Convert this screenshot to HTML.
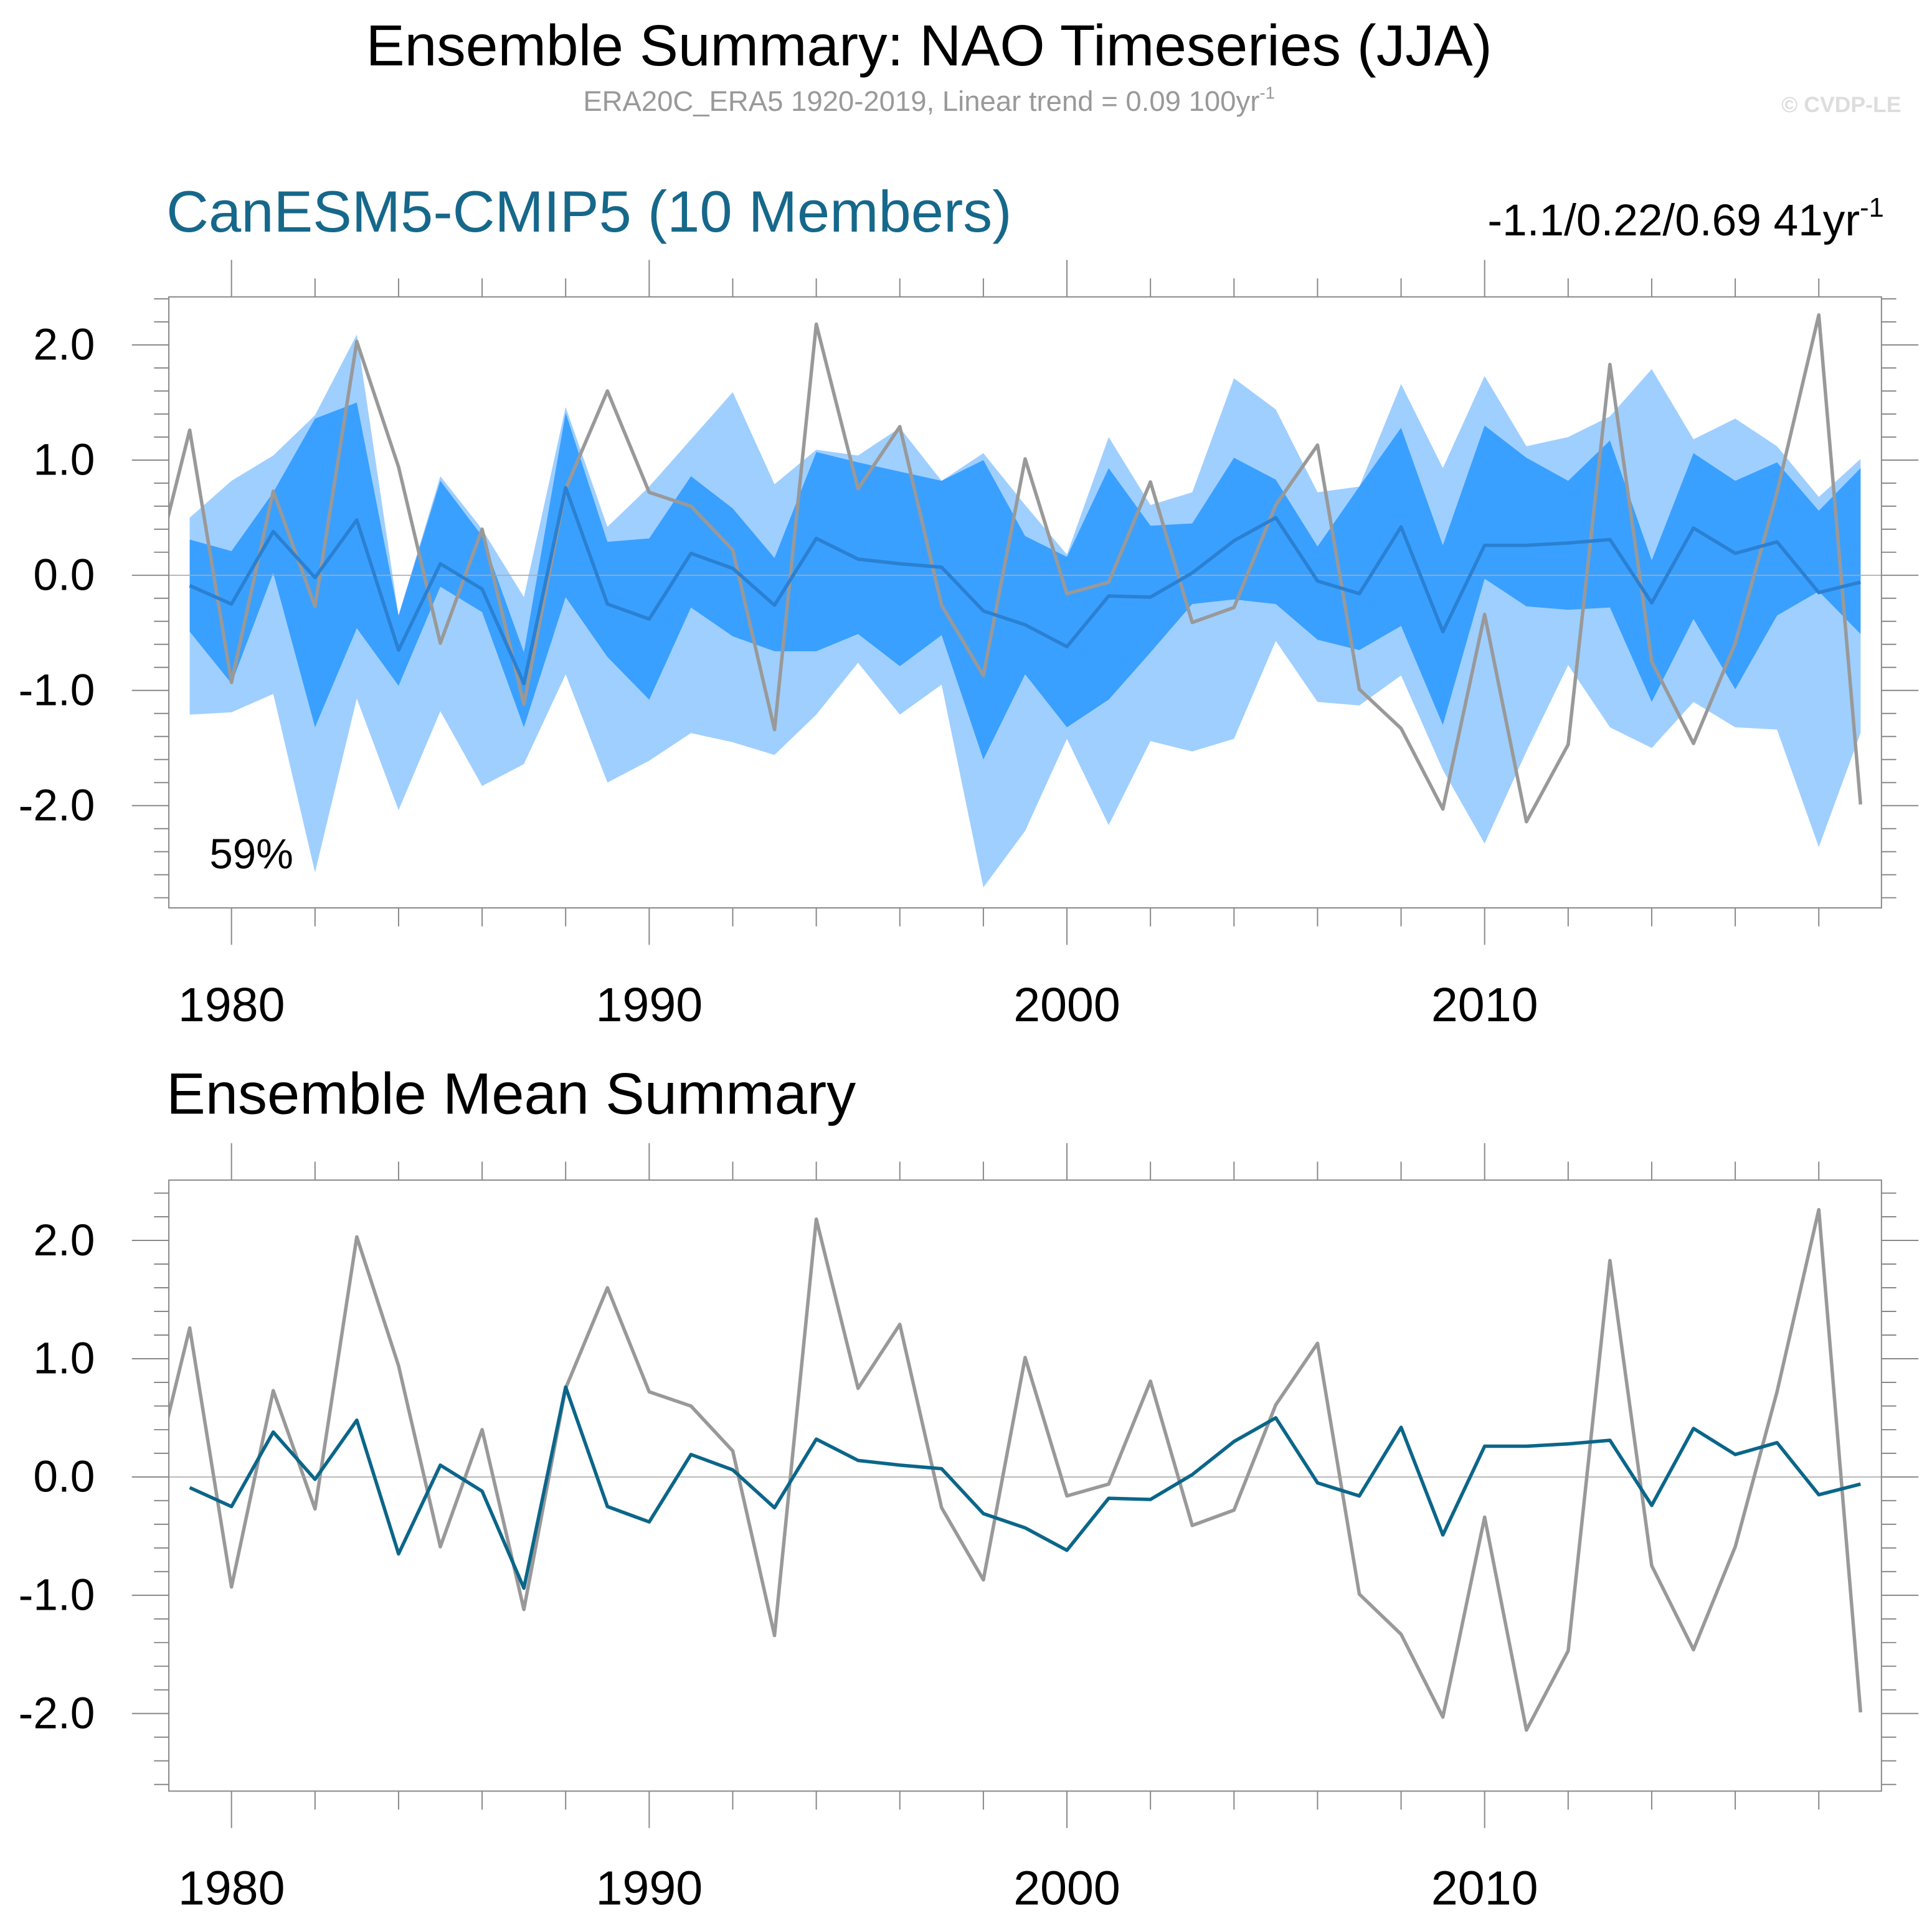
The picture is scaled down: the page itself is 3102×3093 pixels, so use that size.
<!DOCTYPE html>
<html><head><meta charset="utf-8"><style>
html,body{margin:0;padding:0;background:#fff;}
svg{display:block;font-family:"Liberation Sans",Arial,sans-serif;}
</style></head><body>
<svg id="chart" width="3102" height="3093" viewBox="0 0 1568 1563.5" xmlns="http://www.w3.org/2000/svg">
<text x="754" y="53" font-size="47" text-anchor="middle" fill="#000">Ensemble Summary: NAO Timeseries (JJA)</text>
<text x="754" y="90" font-size="23" text-anchor="middle" fill="#999">ERA20C_ERA5 1920-2019, Linear trend = 0.09 100yr<tspan dy="-10" font-size="14">-1</tspan></text>
<text x="1543" y="91" font-size="18" font-weight="bold" text-anchor="end" fill="#ddd">© CVDP-LE</text>
<text x="135" y="188" font-size="47.5" fill="#16688a">CanESM5-CMIP5 (10 Members)</text>
<text x="1529" y="191" font-size="36" text-anchor="end" fill="#000">-1.1/0.22/0.69 41yr<tspan dy="-15" font-size="22">-1</tspan></text>
<text x="135" y="904" font-size="47.5" fill="#000">Ensemble Mean Summary</text>
<g id="top"></g>
<g id="bot"></g>
<text x="170" y="705" font-size="34" fill="#000">59%</text>
</svg>
<script>
const years = [];
for (let y = 1979; y <= 2019; y++) years.push(y);
const obsYears = [1978].concat(years);
const obsValues = [-0.19,1.26,-0.93,0.73,-0.27,2.03,0.94,-0.59,0.40,-1.12,0.75,1.60,0.72,0.60,0.22,-1.34,2.18,0.75,1.29,-0.26,-0.87,1.01,-0.16,-0.06,0.81,-0.41,-0.28,0.61,1.13,-0.99,-1.33,-2.03,-0.34,-2.14,-1.47,1.83,-0.75,-1.46,-0.59,0.72,2.26,-1.99];
const ensMean = [-0.09,-0.25,0.38,-0.02,0.48,-0.65,0.10,-0.12,-0.94,0.76,-0.25,-0.38,0.19,0.06,-0.26,0.32,0.14,0.10,0.07,-0.31,-0.43,-0.62,-0.18,-0.19,0.02,0.30,0.50,-0.05,-0.16,0.42,-0.49,0.26,0.26,0.28,0.31,-0.24,0.41,0.19,0.29,-0.15,-0.06];
const ensMax = [0.50,0.82,1.04,1.39,2.09,-0.35,0.86,0.40,-0.19,1.46,0.42,0.77,1.18,1.59,0.79,1.09,1.04,1.28,0.82,1.06,0.61,0.18,1.20,0.61,0.72,1.71,1.44,0.72,0.77,1.66,0.93,1.73,1.12,1.20,1.38,1.79,1.18,1.36,1.12,0.68,1.01];
const ensHi = [0.31,0.21,0.72,1.36,1.50,-0.35,0.82,0.34,-0.67,1.41,0.29,0.32,0.86,0.58,0.15,1.07,0.98,0.90,0.82,1.00,0.34,0.16,0.93,0.43,0.45,1.02,0.83,0.25,0.77,1.28,0.26,1.30,1.02,0.82,1.17,0.13,1.06,0.82,0.98,0.56,0.93];
const ensLo = [-0.49,-0.94,0.02,-1.32,-0.46,-0.96,-0.10,-0.32,-1.32,-0.19,-0.71,-1.08,-0.28,-0.53,-0.66,-0.66,-0.51,-0.79,-0.52,-1.60,-0.86,-1.32,-1.08,-0.67,-0.25,-0.21,-0.25,-0.56,-0.65,-0.44,-1.30,-0.03,-0.27,-0.30,-0.28,-1.10,-0.38,-0.99,-0.35,-0.14,-0.51];
const ensMin = [-1.21,-1.19,-1.03,-2.58,-1.07,-2.04,-1.18,-1.83,-1.64,-0.86,-1.80,-1.61,-1.37,-1.45,-1.56,-1.21,-0.76,-1.21,-0.95,-2.71,-2.22,-1.42,-2.17,-1.44,-1.53,-1.42,-0.57,-1.10,-1.13,-0.87,-1.69,-2.33,-1.53,-0.78,-1.32,-1.50,-1.10,-1.32,-1.34,-2.36,-1.37];
const yTicks = [2.0,1.0,0.0,-1.0,-2.0];
const yTickLabels = ["2.0","1.0","0.0","-1.0","-2.0"];
const xTicks = [1980,1990,2000,2010];

const NS="http://www.w3.org/2000/svg";
function mk(parent,tag,attrs){const e=document.createElementNS(NS,tag);for(const k in attrs)e.setAttribute(k,attrs[k]);parent.appendChild(e);return e;}
const X0=137,X1=1527,YR0=1978.5,YR1=2019.5;
function xs(yr){return X0+(yr-YR0)/(YR1-YR0)*(X1-X0);}

function panel(g,top,bot,vmax,vmin,id,drawBands){
  const ys=v=>top+(vmax-v)/(vmax-vmin)*(bot-top);
  const defs=mk(g,'defs',{});
  const cp=mk(defs,'clipPath',{id:'clip'+id});
  mk(cp,'rect',{x:X0,y:top,width:X1-X0,height:bot-top});
  const body=mk(g,'g',{'clip-path':'url(#clip'+id+')'});
  if(drawBands){
    const poly=(a,b)=>years.map((y,i)=>xs(y)+','+ys(a[i])).concat(years.slice().reverse().map((y,j)=>{const i=years.length-1-j;return xs(y)+','+ys(b[i]);})).join(' ');
    const p1=mk(body,'polygon',{points:poly(ensMax,ensMin),fill:'#9fcfff'});
    
    
    const p2=mk(body,'polygon',{points:poly(ensHi,ensLo),fill:'#3aa0ff'});
    
    
  }
  const z=mk(body,'line',{x1:X0,x2:X1,y1:ys(0),y2:ys(0),stroke:'#aaa','stroke-width':0.8});
  
  
  const ob=mk(body,'polyline',{points:obsYears.map((y,i)=>xs(y)+','+ys(obsValues[i])).join(' '),fill:'none',stroke:'#999','stroke-width':2.8,'stroke-linejoin':'round'});
  
  
  const em=mk(body,'polyline',{points:years.map((y,i)=>xs(y)+','+ys(ensMean[i])).join(' '),fill:'none',stroke:drawBands?'#2a80d2':'#0b6689','stroke-width':2.8,'stroke-linejoin':'round'});
  
  
  const fr=mk(g,'rect',{x:X0,y:top,width:X1-X0,height:bot-top,fill:'none',stroke:'#888','stroke-width':1});
  
  
  for(let v=Math.ceil(vmin*5)/5; v<=vmax+1e-9; v+=0.2){
    const vv=Math.round(v*10)/10;const major=Math.abs(vv-Math.round(vv))<1e-6;
    const L=major?30:12;const y=ys(vv);
    mk(g,'line',{x1:X0-L,x2:X0,y1:y,y2:y,stroke:'#888','stroke-width':1});
    mk(g,'line',{x1:X1,x2:X1+L,y1:y,y2:y,stroke:'#888','stroke-width':1});
  }
  yTicks.forEach((v,i)=>{
    const t=mk(g,'text',{x:77,y:ys(v)+12,'font-size':36,'text-anchor':'end',fill:'#000'});
    t.textContent=yTickLabels[i];
    
    
  });
  for(let yr=1980; yr<=2018; yr+=2){
    const major=yr%10===0;const L=major?30:15;const x=xs(yr);
    mk(g,'line',{x1:x,x2:x,y1:top-L,y2:top,stroke:'#888','stroke-width':1});
    mk(g,'line',{x1:x,x2:x,y1:bot,y2:bot+L,stroke:'#888','stroke-width':1});
  }
  xTicks.forEach(yr=>{
    const t=mk(g,'text',{x:xs(yr),y:bot+92,'font-size':39,'text-anchor':'middle',fill:'#000'});
    t.textContent=String(yr);
    
    
  });
}
panel(document.getElementById('top'),241,737,2.417,-2.888,'t',true);
panel(document.getElementById('bot'),958,1454,2.51,-2.656,'b',false);
</script>
</body></html>
